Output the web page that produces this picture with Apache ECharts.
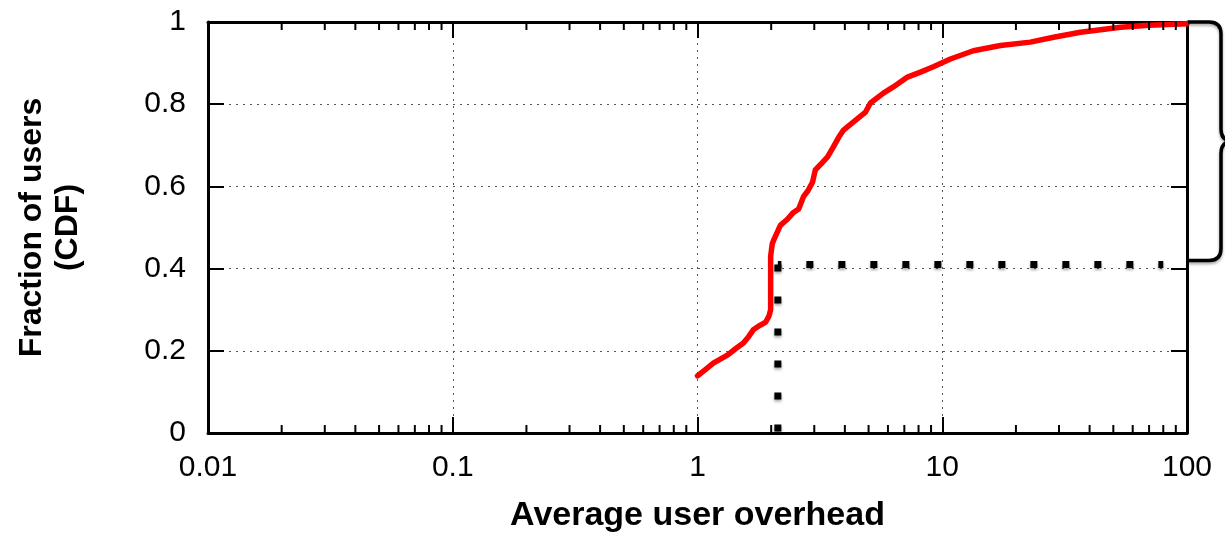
<!DOCTYPE html>
<html>
<head>
<meta charset="utf-8">
<title>Average user overhead CDF</title>
<script src="https://cdn.jsdelivr.net/npm/echarts@6/dist/echarts.min.js"></script>
<style>
  html, body { margin: 0; padding: 0; background: #fff; }
  #chart { width: 1225px; height: 534px; }
</style>
</head>
<body>
<div id="chart"></div>
<script>
// CDF of average per-user overhead (log x axis)
const overheadX = [
  1.00, 1.08, 1.16, 1.24, 1.33, 1.43, 1.54, 1.62, 1.69, 1.80, 1.90, 1.96, 1.99,
  1.99, 2.02, 2.05, 2.18, 2.33, 2.45, 2.59, 2.71, 2.83, 2.95, 3.03, 3.20, 3.40,
  3.59, 3.78, 3.95, 4.34, 4.86, 5.09, 5.75, 6.31, 7.21, 8.15, 9.20, 10.8, 13.4,
  17.3, 22.9, 28.5, 36.7, 44.3, 53.5, 70.0, 100
];
const fractionY = [
  0.139, 0.155, 0.170, 0.180, 0.190, 0.205, 0.219, 0.235, 0.251, 0.262, 0.270, 0.285, 0.300,
  0.430, 0.460, 0.470, 0.505, 0.520, 0.535, 0.545, 0.575, 0.590, 0.610, 0.640, 0.655, 0.672,
  0.696, 0.720, 0.737, 0.757, 0.781, 0.803, 0.827, 0.842, 0.866, 0.878, 0.891, 0.910, 0.930,
  0.943, 0.951, 0.963, 0.975, 0.981, 0.987, 0.992, 0.996
];

// Reference guide: vertical drop at x = 2.13 and level line at 0.41
const guideCorner = [2.13, 0.41];
const guideBottom = [2.13, 0];
const guideRight = [80, 0.41];

// Curly brace spanning the upper part of the distribution
const braceX = 100;
const braceTop = 1;
const braceBottom = 0.42;

// Axis ranges and tick labels
const xMin = 0.01, xMax = 100;
const yTicks = [0, 0.2, 0.4, 0.6, 0.8, 1];
const decades = [0.01, 0.1, 1, 10];
const minorTicks = [];
decades.forEach(d => { for (let k = 2; k <= 9; k++) minorTicks.push(+(d * k).toPrecision(3)); });

const FONT = "'Liberation Sans', Arial, Helvetica, sans-serif";
const curve = overheadX.map((x, i) => [x, fractionY[i]]);

const chart = echarts.init(document.getElementById('chart'), null, { renderer: 'canvas' });

const gridDash = { color: '#555', width: 1, type: [2, 5] };
const frameLine = { show: true, onZero: false, lineStyle: { color: '#000', width: 3 } };
const majorTick = { show: true, inside: true, length: 16, lineStyle: { color: '#000', width: 2 } };

const squareDots = offset => ({
  color: '#000', width: 7, type: [7, 25], dashOffset: offset, cap: 'butt',
  shadowBlur: 3, shadowColor: 'rgba(0,0,0,0.35)', shadowOffsetY: 2
});

chart.setOption({
  animation: false,
  backgroundColor: '#fff',
  grid: { left: 208, right: 38, top: 22, bottom: 101, containLabel: false, outerBoundsMode: 'none' },
  xAxis: [
    {
      type: 'log', logBase: 10, min: xMin, max: xMax, position: 'bottom',
      axisLine: frameLine, axisTick: majorTick,
      axisLabel: {
        color: '#000', fontSize: 30, fontFamily: FONT, margin: 20,
        formatter: v => String(+v.toPrecision(3))
      },
      splitLine: { show: true, lineStyle: gridDash },
      name: 'Average user overhead', nameLocation: 'middle', nameGap: 66,
      nameTextStyle: { color: '#000', fontSize: 34, fontWeight: 'bold', fontFamily: FONT }
    },
    {
      type: 'log', logBase: 10, min: xMin, max: xMax, position: 'top',
      axisLine: frameLine, axisTick: majorTick,
      axisLabel: { show: false }, splitLine: { show: false }
    }
  ],
  yAxis: [
    {
      type: 'value', min: 0, max: 1, interval: 0.2, position: 'left',
      axisLine: frameLine, axisTick: majorTick,
      axisLabel: {
        color: '#000', fontSize: 30, fontFamily: FONT, margin: 22,
        formatter: v => (yTicks.includes(+v.toFixed(1)) ? String(+v.toFixed(1)) : '')
      },
      splitLine: { show: true, lineStyle: gridDash },
      name: 'Fraction of users\n(CDF)', nameLocation: 'middle', nameRotate: 90, nameGap: 122,
      nameTextStyle: { color: '#000', fontSize: 32, fontWeight: 'bold', fontFamily: FONT, lineHeight: 36, align: 'center' }
    },
    {
      type: 'value', min: 0, max: 1, interval: 0.2, position: 'right',
      axisLine: frameLine, axisTick: majorTick,
      axisLabel: { show: false }, splitLine: { show: false }
    }
  ],
  series: [
    {
      // minor log ticks on the bottom and top frame edges
      type: 'custom', xAxisIndex: 0, yAxisIndex: 0, silent: true, clip: false, z: 5,
      data: minorTicks.map(v => [v, 0]),
      encode: { x: 0, y: 1 },
      renderItem: (params, api) => {
        const v = api.value(0);
        const b = api.coord([v, 0]);
        const t = api.coord([v, 1]);
        const st = { stroke: '#000', lineWidth: 2 };
        return {
          type: 'group',
          children: [
            { type: 'line', shape: { x1: b[0], y1: b[1], x2: b[0], y2: b[1] - 8 }, style: st },
            { type: 'line', shape: { x1: t[0], y1: t[1], x2: t[0], y2: t[1] + 8 }, style: st }
          ]
        };
      }
    },
    {
      name: 'CDF', type: 'line', data: curve, showSymbol: false, symbol: 'none',
      lineStyle: { color: '#ff0000', width: 5.5, cap: 'round', join: 'round' },
      z: 3, silent: true
    },
    {
      type: 'line', data: [guideCorner, guideBottom], symbol: 'none',
      lineStyle: squareDots(0), z: 4, silent: true
    },
    {
      type: 'line', data: [guideCorner, guideRight], symbol: 'none',
      lineStyle: squareDots(3.5), z: 4, silent: true
    },
    {
      // curly brace to the right of the plot frame
      type: 'custom', xAxisIndex: 0, yAxisIndex: 0, silent: true, clip: false, z: 6,
      data: [[braceX, braceTop, braceBottom]],
      encode: { x: 0, y: [1, 2] },
      renderItem: (params, api) => {
        const top = api.coord([api.value(0), api.value(1)]);
        const bot = api.coord([api.value(0), api.value(2)]);
        const x0 = top[0] + 1, yT = top[1], yB = bot[1];
        const mid = (yT + yB) / 2, sx = x0 + 33, r = 12;
        const d = `M ${x0} ${yT} L ${sx - r} ${yT} Q ${sx} ${yT} ${sx} ${yT + r} ` +
                  `L ${sx} ${mid - r} Q ${sx} ${mid} ${sx + r} ${mid} ` +
                  `Q ${sx} ${mid} ${sx} ${mid + r} L ${sx} ${yB - r} ` +
                  `Q ${sx} ${yB} ${sx - r} ${yB} L ${x0} ${yB}`;
        return {
          type: 'path',
          shape: { pathData: d },
          style: {
            fill: 'none', stroke: '#000', lineWidth: 3.5,
            shadowBlur: 3, shadowColor: 'rgba(0,0,0,0.35)', shadowOffsetY: 2
          }
        };
      }
    }
  ]
});
</script>
</body>
</html>
